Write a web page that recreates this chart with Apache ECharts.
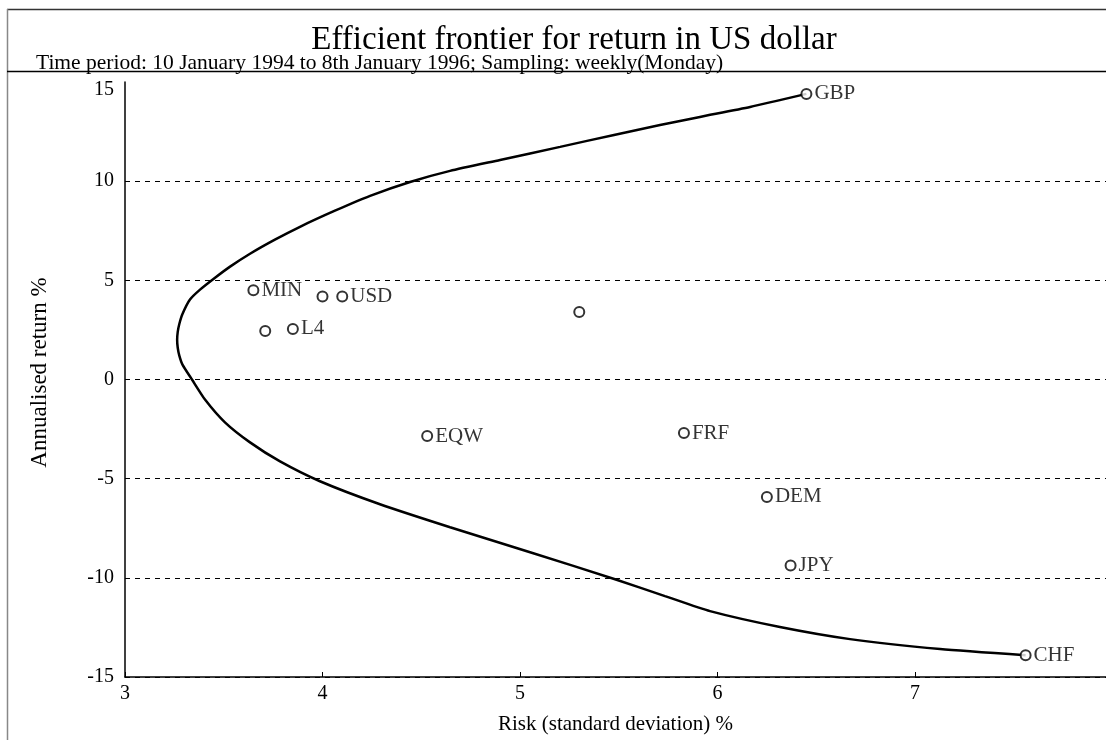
<!DOCTYPE html>
<html>
<head>
<meta charset="utf-8">
<script src="https://cdn.jsdelivr.net/npm/echarts@6/dist/echarts.min.js"></script>
<style>
html,body{margin:0;padding:0;background:#fff;}
#chart{width:1106px;height:740px;}
</style>
</head>
<body>
<div id="chart"></div>
<script>
// Efficient frontier curve (risk %, return %), from GBP end down to CHF end
const frontierRisk = [6.45, 6.165, 5.911, 5.709, 5.476, 5.203, 4.899, 4.646, 4.443, 4.241, 4.063, 3.886, 3.759, 3.633, 3.532, 3.456, 3.380, 3.329, 3.291, 3.275, 3.267, 3.264, 3.267, 3.275, 3.291, 3.339, 3.405, 3.506, 3.633, 3.785, 3.987, 4.291, 4.646, 5.051, 5.481, 5.734, 5.962, 6.316, 6.671, 7.127, 7.56];
const frontierReturn = [14.4, 13.74, 13.24, 12.83, 12.33, 11.73, 11.07, 10.52, 9.96, 9.26, 8.51, 7.70, 7.05, 6.34, 5.69, 5.13, 4.53, 4.03, 3.3, 2.8, 2.4, 2.0, 1.6, 1.2, 0.75, 0.0, -1.01, -2.16, -3.17, -4.13, -5.13, -6.29, -7.45, -8.71, -10.07, -10.92, -11.68, -12.48, -13.09, -13.59, -13.9];

// Individual assets
const assetNames = ['GBP', 'MIN', '', 'USD', '', 'L4', '', 'EQW', 'FRF', 'DEM', 'JPY', 'CHF'];
const assetRisk = [6.45, 3.65, 4.00, 4.10, 3.71, 3.85, 5.30, 4.53, 5.83, 6.25, 6.37, 7.56];
const assetReturn = [14.4, 4.5, 4.18, 4.18, 2.45, 2.55, 3.4, -2.85, -2.7, -5.92, -9.38, -13.9];

const yTicks = [-15, -10, -5, 0, 5, 10, 15];

const titleText = 'Efficient frontier for return in US dollar';
const subtitleText = 'Time period: 10 January 1994 to 8th January 1996; Sampling: weekly(Monday)';
const xTitle = 'Risk (standard deviation) %';
const yTitle = 'Annualised return %';

const FONT = '"Liberation Serif", "DejaVu Serif", serif';

const chart = echarts.init(document.getElementById('chart'), null, {renderer: 'canvas'});

const frontierData = frontierRisk.map((x, i) => [x, frontierReturn[i]]);
const assetData = assetRisk.map((x, i) => ({value: [x, assetReturn[i]], name: assetNames[i]}));

const splitColors = yTicks.map(v => v === 15 ? 'transparent' : '#000');

chart.setOption({
  animation: false,
  backgroundColor: '#fff',
  textStyle: {fontFamily: FONT},
  title: [
    {text: titleText, left: 569, top: 19, textAlign: 'center',
     textStyle: {fontFamily: FONT, fontSize: 33, fontWeight: 'normal', color: '#000'}},
    {text: subtitleText, left: 31, top: 47,
     textStyle: {fontFamily: FONT, fontSize: 21.5, fontWeight: 'normal', color: '#000'}}
  ],
  graphic: [
    {type: 'line', shape: {x1: 7, y1: 9.5, x2: 1106, y2: 9.5}, style: {stroke: '#333', lineWidth: 1.5}},
    {type: 'line', shape: {x1: 7.5, y1: 9, x2: 7.5, y2: 740}, style: {stroke: '#888', lineWidth: 1.5}},
    {type: 'line', shape: {x1: 7, y1: 71.5, x2: 1106, y2: 71.5}, style: {stroke: '#000', lineWidth: 1.5}}
  ],
  grid: {left: 125, right: 0, top: 82, bottom: 62, containLabel: false},
  xAxis: {
    type: 'value', min: 3, max: 7.967, interval: 1,
    name: xTitle, nameLocation: 'middle', nameGap: 37,
    nameTextStyle: {fontFamily: FONT, fontSize: 21, color: '#000'},
    axisLine: {show: true, onZero: false, lineStyle: {color: '#000', width: 1.5}},
    axisTick: {show: true, inside: true, length: 5, lineStyle: {color: '#000'}},
    axisLabel: {fontFamily: FONT, fontSize: 20, color: '#000', margin: 7, showMaxLabel: false},
    splitLine: {show: false}
  },
  yAxis: {
    type: 'value', min: -15, max: 15, interval: 5,
    name: yTitle, nameLocation: 'middle', nameGap: 74, nameRotate: 90,
    nameTextStyle: {fontFamily: FONT, fontSize: 23, color: '#000', padding: [0, 0, 0, 14]},
    axisLine: {show: true, onZero: false, lineStyle: {color: '#000', width: 1.5}},
    axisTick: {show: false},
    axisLabel: {fontFamily: FONT, fontSize: 20, color: '#000', margin: 11,
      formatter: v => v === 15 ? '{t|15}' : String(v),
      rich: {t: {fontFamily: FONT, fontSize: 20, color: '#000', padding: [15, 0, 0, 0]}}},
    splitLine: {show: true, lineStyle: {color: splitColors, type: [5, 5], width: 1}}
  },
  series: [
    {
      type: 'line', data: frontierData, smooth: 0.2, showSymbol: false, symbol: 'none',
      lineStyle: {color: '#000', width: 2.5}, z: 2
    },
    {
      type: 'scatter', data: assetData, symbol: 'circle', symbolSize: 10,
      itemStyle: {color: '#fff', borderColor: '#000', borderWidth: 2},
      label: {show: true, position: 'right', distance: 2, formatter: p => p.name,
              fontFamily: FONT, fontSize: 21, color: '#000'},
      z: 3
    }
  ]
});
</script>
</body>
</html>
